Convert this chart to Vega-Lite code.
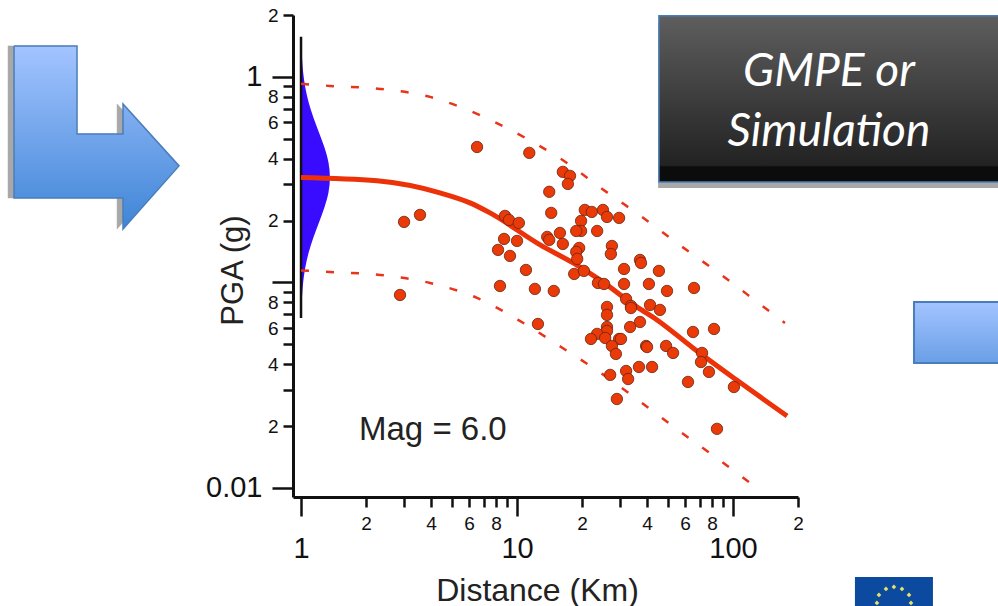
{
"$schema":"https://vega.github.io/schema/vega-lite/v6.json",
"width":505,"height":482,
"autosize":"none",
"padding":{"left":293,"top":15,"right":200,"bottom":109},
"background":"white",
"config":{"view":{"stroke":null},"font":"Liberation Sans"},
"resolve":{"axis":{"x":"independent","y":"independent"}},
"datasets":{
"observations":[
{"d":3.00,"pga":0.197},{"d":3.555,"pga":0.2131},{"d":6.53,"pga":0.456},{"d":2.873,"pga":0.0869},
{"d":11.4,"pga":0.427},{"d":16.3,"pga":0.345},{"d":17.6,"pga":0.330},{"d":17.2,"pga":0.3015},{"d":14.1,"pga":0.276},{"d":14.4,"pga":0.2179},
{"d":8.80,"pga":0.2107},{"d":9.18,"pga":0.2014},{"d":10.2,"pga":0.1948},{"d":20.6,"pga":0.2253},{"d":22.2,"pga":0.2203},{"d":25.0,"pga":0.2253},
{"d":26.1,"pga":0.2083},{"d":29.7,"pga":0.206},{"d":19.8,"pga":0.1992},{"d":19.8,"pga":0.178},{"d":18.8,"pga":0.178},{"d":23.5,"pga":0.178},
{"d":15.8,"pga":0.1741},{"d":13.8,"pga":0.1665},{"d":14.1,"pga":0.161},{"d":16.3,"pga":0.1539},{"d":8.71,"pga":0.1628},{"d":10.0,"pga":0.1592},
{"d":8.17,"pga":0.144},{"d":9.28,"pga":0.1346},{"d":19.4,"pga":0.1472},{"d":18.8,"pga":0.1408},{"d":19.0,"pga":0.1302},{"d":27.5,"pga":0.1505},
{"d":27.2,"pga":0.1376},{"d":11.0,"pga":0.115},{"d":18.4,"pga":0.11},{"d":20.4,"pga":0.1138},{"d":31.3,"pga":0.1163},{"d":37.1,"pga":0.1287},
{"d":37.5,"pga":0.1244},{"d":45.4,"pga":0.1138},{"d":8.34,"pga":0.0961},{"d":12.1,"pga":0.093},{"d":14.8,"pga":0.0909},{"d":23.7,"pga":0.0994},
{"d":25.3,"pga":0.0983},{"d":31.3,"pga":0.0983},{"d":40.8,"pga":0.0983},{"d":49.5,"pga":0.0909},{"d":66.0,"pga":0.094},
{"d":32.0,"pga":0.0831},{"d":26.1,"pga":0.076},{"d":26.1,"pga":0.0695},{"d":33.7,"pga":0.0769},{"d":33.7,"pga":0.0751},{"d":41.3,"pga":0.0777},
{"d":45.9,"pga":0.0735},{"d":12.5,"pga":0.0628},{"d":37.1,"pga":0.0642},{"d":33.4,"pga":0.0607},{"d":65.3,"pga":0.0574},{"d":81.7,"pga":0.0594},
{"d":26.1,"pga":0.0607},{"d":26.1,"pga":0.0581},{"d":23.5,"pga":0.0562},{"d":25.6,"pga":0.0537},{"d":22.0,"pga":0.0531},{"d":29.7,"pga":0.0531},
{"d":30.3,"pga":0.0531},{"d":27.5,"pga":0.0491},{"d":28.7,"pga":0.0449},{"d":39.6,"pga":0.0491},{"d":40.0,"pga":0.0485},{"d":49.0,"pga":0.0491},
{"d":52.8,"pga":0.0454},{"d":71.9,"pga":0.0454},{"d":71.1,"pga":0.041},{"d":77.4,"pga":0.0367},{"d":61.9,"pga":0.0328},{"d":101,"pga":0.031},
{"d":27.0,"pga":0.0355},{"d":32.0,"pga":0.0371},{"d":36.7,"pga":0.0388},{"d":42.2,"pga":0.0388},{"d":32.7,"pga":0.0339},{"d":29.0,"pga":0.0271},{"d":84.3,"pga":0.0194}
],
"median":[
{"d":1,"pga":0.324},{"d":2.25,"pga":0.312},{"d":4.40,"pga":0.2726},{"d":6.06,"pga":0.2437},{"d":7.50,"pga":0.2179},{"d":12.8,"pga":0.1523},{"d":18.2,"pga":0.1244},{"d":24.2,"pga":0.1029},{"d":35.9,"pga":0.076},{"d":44.5,"pga":0.0657},{"d":65.3,"pga":0.048},{"d":104,"pga":0.0335},{"d":178,"pga":0.0224}
],
"bounds":[
{"b":"upper","d":1,"pga":0.925},{"b":"upper","d":1.36,"pga":0.904},{"b":"upper","d":2.32,"pga":0.874},{"b":"upper","d":3.96,"pga":0.799},{"b":"upper","d":6.53,"pga":0.661},{"b":"upper","d":10.3,"pga":0.522},{"b":"upper","d":16.2,"pga":0.395},{"b":"upper","d":24.8,"pga":0.285},{"b":"upper","d":37.9,"pga":0.2083},{"b":"upper","d":57.4,"pga":0.1505},{"b":"upper","d":87.1,"pga":0.11},{"b":"upper","d":133,"pga":0.0786},{"b":"upper","d":174,"pga":0.0635},
{"b":"lower","d":1,"pga":0.1144},{"b":"lower","d":1.36,"pga":0.1125},{"b":"lower","d":2.32,"pga":0.1088},{"b":"lower","d":3.96,"pga":0.0994},{"b":"lower","d":6.53,"pga":0.0841},{"b":"lower","d":10.3,"pga":0.065},{"b":"lower","d":16.0,"pga":0.0485},{"b":"lower","d":24.8,"pga":0.0359},{"b":"lower","d":37.9,"pga":0.0259},{"b":"lower","d":57.4,"pga":0.0187},{"b":"lower","d":88.0,"pga":0.0135},{"b":"lower","d":129,"pga":0.01}
],
"density":[
{"pga":1.555,"w":1.003,"base":1},{"pga":1.243,"w":1.0103,"base":1},{"pga":1.051,"w":1.023,"base":1},{"pga":0.888,"w":1.0465,"base":1},{"pga":0.751,"w":1.085,"base":1},{"pga":0.635,"w":1.141,"base":1},{"pga":0.537,"w":1.211,"base":1},{"pga":0.454,"w":1.283,"base":1},{"pga":0.383,"w":1.34,"base":1},{"pga":0.324,"w":1.361,"base":1},{"pga":0.274,"w":1.34,"base":1},{"pga":0.2314,"w":1.283,"base":1},{"pga":0.1957,"w":1.211,"base":1},{"pga":0.1654,"w":1.141,"base":1},{"pga":0.1398,"w":1.085,"base":1},{"pga":0.1182,"w":1.0465,"base":1},{"pga":0.0999,"w":1.023,"base":1},{"pga":0.0844,"w":1.0103,"base":1},{"pga":0.0675,"w":1.003,"base":1}
],
"arrowShadow":[
{"i":0,"d":0.0440,"pga":1.415},{"i":1,"d":0.0862,"pga":1.415},{"i":2,"d":0.0862,"pga":0.528},{"i":3,"d":0.1407,"pga":0.528},{"i":4,"d":0.1407,"pga":0.739},{"i":5,"d":0.2556,"pga":0.369},{"i":6,"d":0.1407,"pga":0.182},{"i":7,"d":0.1407,"pga":0.2577},{"i":8,"d":0.0440,"pga":0.2577},{"i":9,"d":0.0440,"pga":1.415}
],
"arrow":[
{"i":0,"d":0.0469,"pga":1.415},{"i":1,"d":0.0918,"pga":1.415},{"i":2,"d":0.0918,"pga":0.528},{"i":3,"d":0.1499,"pga":0.528},{"i":4,"d":0.1499,"pga":0.739},{"i":5,"d":0.2724,"pga":0.369},{"i":6,"d":0.1499,"pga":0.182},{"i":7,"d":0.1499,"pga":0.2577},{"i":8,"d":0.0469,"pga":0.2577},{"i":9,"d":0.0469,"pga":1.415}
],
"stars":[
{"d":556,"pga":0.0033},{"d":511,"pga":0.00323},{"d":606,"pga":0.00323},{"d":474,"pga":0.00302},{"d":653,"pga":0.00302},{"d":464,"pga":0.00276},{"d":667,"pga":0.00276}
]
},
"layer":[
{"data":{"values":[{"a":45.0,"b":1817,"t":1.852,"u":0.2884}]},
 "mark":{"type":"rect","fill":"#a8a8a8"},
 "encoding":{
  "x":{"field":"a","type":"quantitative","scale":{"type":"log","domain":[0.918,200],"nice":false},
   "axis":{"values":[1,2,3,4,5,6,7,8,9,10,20,30,40,50,60,70,80,90,100,200],
    "labelExpr":"datum.value==200?'2':indexof([20,40,60,80],datum.value)>=0?''+datum.value/10:indexof([3,5,7,9,30,50,70,90],datum.value)>=0?'':''+datum.value",
    "labelOverlap":false,"labelFlush":false,"labelBound":false,"grid":false,
    "domainColor":"#111","domainWidth":3,"tickColor":"#111","tickWidth":2.5,
    "tickSize":{"condition":{"test":"datum.value==1||datum.value==10||datum.value==100","value":19},"value":10},
    "labelFontSize":{"condition":{"test":"datum.value==1||datum.value==10||datum.value==100","value":29},"value":19},
    "labelPadding":{"condition":{"test":"datum.value==1||datum.value==10||datum.value==100","value":18},"value":7},
    "labelColor":"#111","labelFont":"Liberation Sans",
    "title":"Distance (Km)","titleFont":"Liberation Sans","titleFontSize":32,"titleFontWeight":"normal","titleColor":"#222","titleX":244,"titleY":93,"titleBaseline":"middle","titleAnchor":"middle"}},
  "x2":{"field":"b"},
  "y":{"field":"t","type":"quantitative","scale":{"type":"log","domain":[0.00904,2],"nice":false},
   "axis":{"values":[0.01,0.02,0.03,0.04,0.05,0.06,0.07,0.08,0.09,0.1,0.2,0.3,0.4,0.5,0.6,0.7,0.8,0.9,1,2],
    "labelExpr":"datum.value==0.01?'0.01':datum.value==1?'1':datum.value==2?'2':indexof([0.8,0.6,0.4,0.2],datum.value)>=0?''+round(datum.value*10):indexof([0.08,0.06,0.04,0.02],datum.value)>=0?''+round(datum.value*100):''",
    "labelOverlap":false,"labelFlush":false,"labelBound":false,"grid":false,
    "domainColor":"#111","domainWidth":3,"tickColor":"#111","tickWidth":2.5,
    "tickSize":{"condition":{"test":"datum.value==1||datum.value==0.1||datum.value==0.01","value":21},"value":10},
    "labelFontSize":{"condition":{"test":"datum.value==1||datum.value==0.01","value":29},"value":19},
    "labelPadding":{"condition":{"test":"datum.value==1||datum.value==0.01","value":10},"value":5},
    "labelColor":"#111","labelFont":"Liberation Sans",
    "title":"PGA (g)","titleFont":"Liberation Sans","titleFontSize":31,"titleFontWeight":"normal","titleColor":"#222","titleX":-60,"titleY":255,"titleAngle":-90,"titleBaseline":"middle","titleAnchor":"middle"}},
  "y2":{"field":"u"}}},
{"data":{"values":[{"a":45.4,"b":1817,"t":1.981,"u":0.3083}]},
 "mark":{"type":"rect","stroke":"#4a7ebb","strokeWidth":1.5,"fill":{"gradient":"linear","x1":0,"y1":0,"x2":0,"y2":1,"stops":[{"offset":0,"color":"#5e5e5e"},{"offset":0.9,"color":"#222222"},{"offset":0.91,"color":"#0c0c0c"},{"offset":1,"color":"#0c0c0c"}]}},
 "encoding":{"x":{"field":"a","type":"quantitative","axis":null},"x2":{"field":"b"},"y":{"field":"t","type":"quantitative","axis":null},"y2":{"field":"u"}}},
{"data":{"values":[{"label":"GMPE or","d":278,"pga":1.058},{"label":"Simulation","d":278,"pga":0.54}]},
 "mark":{"type":"text","font":"Lato","fontStyle":"italic","fontSize":46,"color":"white","align":"center","baseline":"middle"},
 "encoding":{"x":{"field":"d","type":"quantitative","axis":null},"y":{"field":"pga","type":"quantitative","axis":null},"text":{"field":"label"}}},
{"data":{"values":[{"a":689,"b":1817,"t":0.0804,"u":0.0406}]},
 "mark":{"type":"rect","stroke":"#4a7ebb","strokeWidth":2,"fill":{"gradient":"linear","x1":0,"y1":0,"x2":0,"y2":1,"stops":[{"offset":0,"color":"#a3c4ff"},{"offset":1,"color":"#6a9fe6"}]}},
 "encoding":{"x":{"field":"a","type":"quantitative","axis":null},"x2":{"field":"b"},"y":{"field":"t","type":"quantitative","axis":null},"y2":{"field":"u"}}},
{"data":{"values":[{"a":367,"b":843,"t":0.00369,"u":0.00241}]},
 "mark":{"type":"rect","fill":"#0b4a9e"},
 "encoding":{"x":{"field":"a","type":"quantitative","axis":null},"x2":{"field":"b"},"y":{"field":"t","type":"quantitative","axis":null},"y2":{"field":"u"}}},
{"data":{"name":"stars"},
 "mark":{"type":"point","shape":"diamond","filled":true,"fill":"#e6e26a","size":22,"opacity":1},
 "encoding":{"x":{"field":"d","type":"quantitative","axis":null},"y":{"field":"pga","type":"quantitative","axis":null}}},
{"data":{"name":"arrowShadow"},
 "mark":{"type":"line","fill":"#a8a8a8","stroke":"#a8a8a8","strokeWidth":0.5},
 "encoding":{"x":{"field":"d","type":"quantitative","axis":null},"y":{"field":"pga","type":"quantitative","axis":null},"order":{"field":"i"}}},
{"data":{"name":"arrow"},
 "mark":{"type":"line","stroke":"#4a7ebb","strokeWidth":1.5,"fill":{"gradient":"linear","x1":0,"y1":0,"x2":0,"y2":1,"stops":[{"offset":0,"color":"#a3c4ff"},{"offset":1,"color":"#3f85d6"}]}},
 "encoding":{"x":{"field":"d","type":"quantitative","axis":null},"y":{"field":"pga","type":"quantitative","axis":null},"order":{"field":"i"}}},
{"data":{"name":"density"},
 "mark":{"type":"area","orient":"horizontal","color":"#3a0cff","interpolate":"monotone"},
 "encoding":{"x":{"field":"w","type":"quantitative","axis":null,"stack":null},"x2":{"field":"base"},"y":{"field":"pga","type":"quantitative","axis":null}}},
{"data":{"values":[{"d":1,"top":1.566,"bottom":0.0672}]},
 "mark":{"type":"rule","color":"#111","strokeWidth":2.5},
 "encoding":{"x":{"field":"d","type":"quantitative","axis":null},"y":{"field":"top","type":"quantitative","axis":null},"y2":{"field":"bottom"}}},
{"data":{"name":"bounds"},
 "mark":{"type":"line","color":"#e8341a","strokeWidth":2.5,"strokeDash":[8,17],"interpolate":"monotone"},
 "encoding":{"x":{"field":"d","type":"quantitative","axis":null},"y":{"field":"pga","type":"quantitative","axis":null},"detail":{"field":"b"}}},
{"data":{"name":"median"},
 "mark":{"type":"line","color":"#ec3208","strokeWidth":5,"interpolate":"monotone"},
 "encoding":{"x":{"field":"d","type":"quantitative","axis":null},"y":{"field":"pga","type":"quantitative","axis":null}}},
{"data":{"name":"observations"},
 "mark":{"type":"circle","size":130,"fill":"#e93a08","stroke":"#6b2410","strokeWidth":0.8,"opacity":1},
 "encoding":{"x":{"field":"d","type":"quantitative","axis":null},"y":{"field":"pga","type":"quantitative","axis":null}}},
{"data":{"values":[{"label":"Mag = 6.0","d":1.856,"pga":0.01916}]},
 "mark":{"type":"text","font":"Liberation Sans","fontSize":33,"color":"#222","align":"left","baseline":"middle"},
 "encoding":{"x":{"field":"d","type":"quantitative","axis":null},"y":{"field":"pga","type":"quantitative","axis":null},"text":{"field":"label"}}}
]
}
